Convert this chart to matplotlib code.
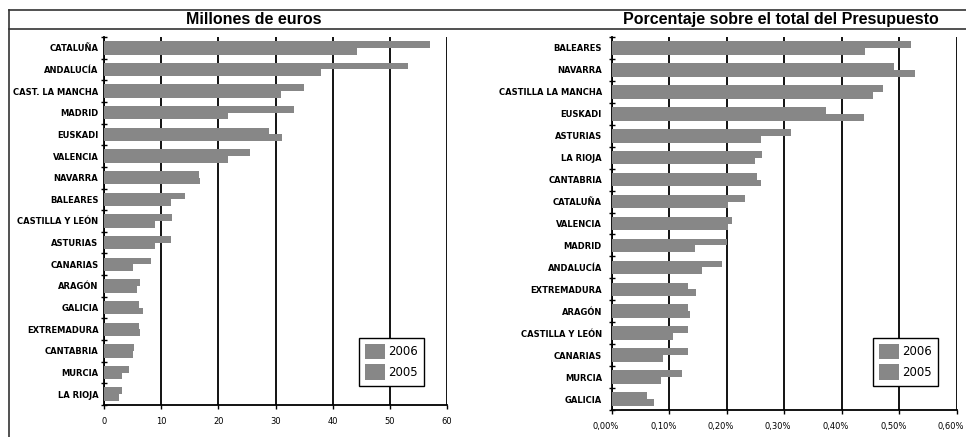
import matplotlib
matplotlib.use("Agg")
import matplotlib.pyplot as plt
from matplotlib.lines import Line2D
from matplotlib.ticker import FuncFormatter, MultipleLocator
import matplotlib.transforms as mtransforms
import numpy as np

# Millones de euros
regiones_eur = ['CATALUÑA', 'ANDALUCÍA', 'CAST. LA MANCHA', 'MADRID', 'EUSKADI',
                'VALENCIA', 'NAVARRA', 'BALEARES', 'CASTILLA Y LEÓN', 'ASTURIAS',
                'CANARIAS', 'ARAGÓN', 'GALICIA', 'EXTREMADURA', 'CANTABRIA',
                'MURCIA', 'LA RIOJA']
eur_2006 = [57.1, 53.2, 35.0, 33.3, 28.8, 25.5, 16.6, 14.2, 11.9, 11.7,
            8.3, 6.3, 6.1, 6.1, 5.3, 4.3, 3.1]
eur_2005 = [44.3, 37.9, 30.9, 21.7, 31.1, 21.7, 16.8, 11.7, 9.0, 9.0,
            5.1, 5.8, 6.8, 6.3, 5.1, 3.1, 2.6]

# Porcentaje sobre el total del Presupuesto
regiones_pct = ['BALEARES', 'NAVARRA', 'CASTILLA LA MANCHA', 'EUSKADI', 'ASTURIAS',
                'LA RIOJA', 'CANTABRIA', 'CATALUÑA', 'VALENCIA', 'MADRID',
                'ANDALUCÍA', 'EXTREMADURA', 'ARAGÓN', 'CASTILLA Y LEÓN',
                'CANARIAS', 'MURCIA', 'GALICIA']
pct_2006 = [0.521, 0.491, 0.472, 0.372, 0.311, 0.262, 0.252, 0.232, 0.210, 0.201,
            0.191, 0.132, 0.132, 0.132, 0.132, 0.122, 0.061]
pct_2005 = [0.441, 0.528, 0.455, 0.438, 0.259, 0.249, 0.259, 0.203, 0.203, 0.145,
            0.157, 0.147, 0.137, 0.106, 0.090, 0.086, 0.074]

W, H = 966, 437
GRAY = '#878787'

fig = plt.figure(figsize=(W / 100, H / 100), dpi=100)


def fx(px):
    return px / W


def fy(py):
    return 1 - py / H


def panel(rect, cats, v06, v05, xmax, step, fmt, label_pad, leg_xy, xlab_shift=0):
    ax = fig.add_axes(rect)
    y = np.arange(len(cats))
    h = 0.31
    ax.barh(y - h / 2, v06, height=h, color=GRAY, label='2006', zorder=3)
    ax.barh(y + h / 2, v05, height=h, color=GRAY, label='2005', zorder=3)
    ax.set_ylim(len(cats) - 0.5, -0.5)
    ax.set_xlim(0, xmax)
    ax.xaxis.set_major_locator(MultipleLocator(step))
    ax.xaxis.set_major_formatter(FuncFormatter(fmt))
    ax.grid(axis='x', color='black', linewidth=1.3, zorder=1)
    ax.set_yticks(y)
    ax.set_yticklabels(cats, fontsize=6, fontweight='bold')
    ax.set_yticks(np.arange(len(cats) + 1) - 0.5, minor=True)
    ax.tick_params(axis='y', which='major', length=0, pad=label_pad)
    ax.tick_params(axis='y', which='minor', length=4, width=1, direction='inout')
    ax.tick_params(axis='x', labelsize=6, length=3, width=1, pad=6)
    if xlab_shift:
        off = mtransforms.ScaledTranslation(xlab_shift / 100, 0, fig.dpi_scale_trans)
        for lab in ax.get_xticklabels():
            lab.set_transform(lab.get_transform() + off)
    for s in ('top', 'right'):
        ax.spines[s].set_visible(False)
    for s in ('left', 'bottom'):
        ax.spines[s].set_linewidth(1.3)
    leg = ax.legend(loc='lower left', bbox_to_anchor=leg_xy, bbox_transform=fig.transFigure,
                    borderaxespad=0, fontsize=8.5, fancybox=False, framealpha=1,
                    edgecolor='black', handlelength=1.7, handleheight=1.7,
                    labelspacing=0.4, borderpad=0.5, handletextpad=0.3)
    leg.get_frame().set_linewidth(1.0)
    return ax


panel([fx(104), fy(405), fx(447 - 104), (405 - 37) / H], regiones_eur, eur_2006, eur_2005,
      60, 10, lambda v, p: f'{v:.0f}', 4, (fx(359), fy(386)))
panel([fx(611.7), fy(410), fx(956.7 - 611.7), (410 - 37) / H], regiones_pct, pct_2006, pct_2005,
      0.6, 0.1, lambda v, p: f'{v:.2f}'.replace('.', ',') + '%', 7, (fx(873), fy(386)),
      xlab_shift=-6)

# marco de los titulos
for py in (10, 29):
    fig.add_artist(Line2D([fx(9), 1], [fy(py), fy(py)], color='#333333', linewidth=1.2))
fig.add_artist(Line2D([fx(9), fx(9)], [fy(10), 0], color='#333333', linewidth=1.2))

fig.text(fx(254), fy(19.5), 'Millones de euros', ha='center', va='center',
         fontsize=11.5, fontweight='bold', family='Liberation Sans')
fig.text(fx(781), fy(19.5), 'Porcentaje sobre el total del Presupuesto', ha='center',
         va='center', fontsize=11.5, fontweight='bold', family='Liberation Sans')

fig.savefig('out.png', dpi=100)
